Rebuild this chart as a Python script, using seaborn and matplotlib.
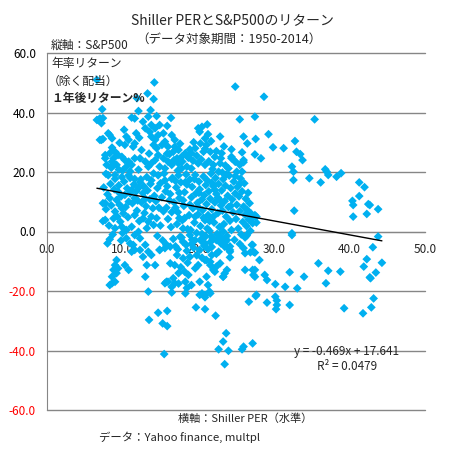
import numpy as np
import pandas as pd
import matplotlib
matplotlib.use('Agg')
import matplotlib.pyplot as plt
import seaborn as sns

# Shiller PER (x) vs 1-year forward S&P500 return % (y)

# upper-left part (PER < 19, return > 20)
pe_upper_left = [6.6, 14.2, 13.3, 14.1, 11.9, 7.3, 12.1, 13.7, 13.4, 11.2, 11.6, 6.8, 7.4, 13.8, 14.3,
                 14.9, 13.0, 12.7, 16.5, 16.9, 8.1, 8.6, 8.3, 7.0, 7.4, 10.5, 10.8, 10.3, 11.6, 11.4,
                 13.6, 13.8, 14.3, 14.1, 14.5, 15.4, 15.6, 15.2, 16.0, 16.9, 17.4, 16.7, 18.3, 17.8, 17.2,
                 7.7, 8.3, 9.0, 9.4, 8.8, 9.9, 7.9, 8.6, 9.2, 10.3, 10.8, 11.2, 11.6, 10.5, 12.5,
                 12.3, 13.0, 13.4, 13.8, 14.3, 14.7, 15.4, 16.0, 16.5, 15.6, 14.9, 17.4, 17.8,
                 6.6, 7.2, 7.0, 7.2, 7.7, 16.2, 16.8, 17.3, 17.9, 18.5, 18.7, 15.9, 13.5, 12.1, 11.0,
                 9.5, 8.6, 9.6, 10.2, 12.2, 11.8, 14.7, 15.9, 16.4, 14.5, 17.6, 8.5]
ret_upper_left = [51.0, 50.1, 46.4, 44.5, 44.8, 41.1, 40.5, 40.8, 38.6, 38.3, 38.0, 37.5, 38.1, 35.8, 34.7,
                  35.8, 34.7, 36.9, 32.4, 30.8, 33.0, 31.3, 32.4, 30.8, 31.1, 31.9, 30.8, 29.1, 29.6, 28.5,
                  33.5, 31.9, 30.8, 29.1, 28.0, 33.0, 30.2, 29.1, 28.5, 28.5, 27.4, 26.8, 26.3, 25.1, 24.6,
                  25.7, 26.3, 26.8, 25.7, 24.6, 25.1, 22.4, 23.5, 22.4, 24.0, 23.5, 22.4, 24.6, 21.8, 27.4,
                  24.6, 23.5, 21.8, 22.9, 24.0, 25.7, 24.6, 23.5, 22.4, 21.2, 21.8, 22.9, 21.2,
                  37.5, 36.4, 38.0, 30.8, 24.6, 26.0, 24.0, 20.5, 23.5, 21.8, 24.8, 26.2, 26.2, 20.8, 20.2,
                  20.8, 28.2, 29.8, 34.2, 31.5, 33.0, 32.4, 35.5, 38.2, 38.8, 29.5, 21.5]

# upper-right part (PER >= 19, return > 5)
pe_upper_right = [24.9, 28.7, 25.5, 27.5, 21.2, 20.0, 20.2, 20.5, 20.9, 21.3, 22.9, 26.0, 26.5, 27.6, 29.3,
                  29.9, 31.3, 25.8, 27.5, 28.3, 19.6, 19.1, 20.7, 21.1, 21.6, 23.1, 22.2, 24.4, 24.9, 26.0,
                  24.0, 22.9, 22.0, 20.9, 20.0, 19.1, 22.7, 25.1, 25.8, 32.4, 32.6, 32.6, 32.8, 33.0, 33.5,
                  33.8, 35.4, 34.7, 36.2, 36.8, 37.0, 37.2, 38.3, 38.9, 41.3, 42.0, 41.3, 40.4, 40.5, 42.5,
                  42.7, 43.8, 40.5, 42.3, 32.7, 19.3, 19.8, 20.4, 20.9, 21.4, 21.9, 22.4, 23.0, 23.6, 19.4,
                  20.3, 21.7, 23.4, 24.4, 18.9, 24.4, 24.9, 25.5, 26.0, 27.5, 27.1, 27.7]
ret_upper_right = [48.7, 45.3, 37.7, 38.6, 36.0, 34.7, 33.5, 35.2, 31.3, 32.7, 31.9, 31.9, 29.6, 31.1, 32.7,
                   28.3, 28.0, 26.6, 25.9, 24.6, 28.0, 26.3, 26.8, 29.1, 26.8, 26.3, 25.1, 25.1, 23.5, 23.3,
                   21.2, 22.9, 22.4, 22.4, 22.9, 21.2, 20.1, 20.1, 20.1, 21.8, 20.1, 17.3, 30.4, 26.8, 26.0,
                   24.0, 37.7, 17.9, 16.5, 20.9, 20.1, 19.0, 18.4, 19.6, 16.5, 14.9, 11.9, 10.3, 8.9, 9.2,
                   8.9, 7.5, 5.0, 5.9, 7.0, 23.8, 25.5, 24.2, 27.8, 23.6, 21.0, 27.0, 24.6, 22.2, 30.0,
                   29.6, 30.4, 28.6, 27.6, 27.6, 24.6, 23.5, 22.4, 24.0, 5.5, 4.4, 5.0]

# dense left core (PER 7-15, return around 0-20)
pe_core_left = [8.1, 9.0, 9.9, 10.8, 11.6, 12.3, 13.2, 13.8, 14.7, 15.6, 16.5, 17.4, 18.3,
                7.7, 8.3, 9.2, 9.4, 10.3, 11.2, 12.1, 12.7, 11.6, 10.8, 9.9, 9.0, 10.1,
                7.4, 8.8, 9.7, 9.0, 9.9, 10.5, 11.2, 12.1, 12.7, 13.4, 13.8, 14.1, 13.2, 12.3, 11.6,
                7.5, 8.0, 8.4, 8.9, 9.5, 9.8, 10.2, 10.6, 11.0, 11.5, 11.8, 12.4, 12.8, 13.3, 13.7,
                14.2, 14.6, 15.0, 7.8, 8.5, 9.6, 10.4, 11.3, 11.9, 12.5, 13.1, 13.6, 14.0, 14.4, 14.8,
                15.2, 8.2, 8.7, 9.3, 10.7, 11.6, 12.2, 12.9, 14.5, 15.0, 15.4, 10.0, 8.0, 9.8, 14.6, 15.3,
                15.7, 14.1, 13.0, 12.0, 11.0, 10.0, 9.0, 8.5, 7.8, 7.4, 7.7]
ret_core_left = [18.9, 17.7, 18.3, 18.9, 17.7, 16.6, 18.3, 17.2, 18.9, 17.2, 17.7, 18.9, 16.6,
                 9.5, 11.2, 10.6, 13.4, 12.3, 14.0, 14.6, 12.9, 11.2, 10.0, 7.8, 6.7, 6.1,
                 3.5, 4.4, 3.3, 1.1, 1.6, 0.5, 1.6, -0.1, 4.4, 3.3, 5.0, 2.2, 1.1, -2.3, -1.2,
                 14.8, 12.5, 16.0, 14.2, 15.5, 11.8, 16.8, 14.5, 12.8, 15.8, 13.5, 17.5, 15.2, 13.8, 16.0,
                 12.0, 14.6, 16.2, 7.5, 8.8, 9.0, 8.2, 9.5, 7.0, 9.8, 8.5, 10.8, 7.8, 10.2, 8.0,
                 11.5, 2.0, -1.0, 5.0, 4.8, 5.5, 3.5, 6.2, 4.5, 2.0, 6.8, -0.5, -4.0, -3.0, -1.5, -3.0,
                 13.5, 19.5, 11.0, 10.4, 18.0, 20.5, 19.0, 21.5, 19.4, 9.5, 3.9]

# dense middle core (PER 15-28, return around -10 to 20)
pe_core_mid = [15.5, 15.9, 16.3, 16.6, 16.8, 17.1, 17.3, 17.5, 17.7, 17.9, 18.1, 18.2, 18.4, 18.6, 18.8,
               16.0, 16.4, 16.7, 17.0, 17.6, 18.0, 18.5, 15.8, 16.2, 17.2,
               18.9, 19.1, 19.2, 19.3, 19.5, 19.6, 19.7, 19.8, 19.9, 20.0, 20.1, 20.2, 20.3, 20.4, 20.5,
               20.6, 20.7, 20.8, 20.9, 21.0, 19.2, 19.4, 19.8, 20.2, 20.8, 21.0, 19.0, 19.6, 20.1, 20.5,
               21.1, 21.2, 21.3, 21.4, 21.5, 21.6, 21.7, 21.8, 21.9, 22.0, 22.1, 22.2, 22.3, 22.4, 22.5,
               22.6, 22.7, 22.8, 22.9, 23.0, 21.3, 21.8, 22.4, 22.8, 21.5, 22.2,
               23.1, 23.2, 23.3, 23.4, 23.5, 23.6, 23.7, 23.8, 23.9, 24.0, 24.1, 24.2, 24.3, 24.4, 24.5,
               24.6, 24.7, 24.8, 24.9, 25.0, 23.5, 24.2, 23.2,
               25.1, 25.2, 25.3, 25.4, 25.5, 25.6, 25.7, 25.8, 25.9, 26.0, 26.1, 26.2, 26.3, 26.4, 26.5,
               26.6, 26.7, 26.8, 27.0, 27.2, 27.4, 26.9, 25.5, 26.2, 27.7,
               17.0, 17.5, 18.0, 18.5, 18.9, 19.5, 20.0, 20.7, 21.2, 21.8, 22.0, 22.6, 23.0, 23.7, 24.3,
               24.9, 25.5, 23.3, 22.9, 21.6, 20.5, 19.1, 18.2, 16.5,
               17.0, 17.5, 18.0, 17.8, 18.4, 17.3, 18.0, 18.6, 17.7, 18.2, 18.9]
ret_core_mid = [19.5, 15.2, 12.6, 18.0, 9.8, 14.8, 6.5, 11.2, 16.5, 3.8, 8.6, 13.2, 19.2, 0.8, 5.5,
                4.2, 1.5, -2.5, -5.0, -1.8, -3.5, -6.5, 8.0, 10.5, 2.5,
                17.5, 11.5, 15.0, 7.8, 3.0, 19.0, 12.8, -0.5, 9.6, 5.8, 16.8, 14.2, 1.8, -3.2, 10.8,
                7.2, 18.5, 12.2, 3.8, -1.6, -2.8, -5.5, -8.0, -6.2, -4.8, 15.6, 0.5, 5.0, 13.0, -8.8,
                9.2, 17.2, 5.5, 13.5, 0.2, 11.0, 19.5, 7.5, -2.5, 15.2, 3.0, 9.8, 18.0, 12.6, -0.8,
                6.2, 16.0, 1.5, 10.5, -4.0, -6.0, -5.2, -7.5, -3.0, 3.5, 14.0,
                13.8, 7.0, 17.6, 2.5, 10.2, 15.4, 5.0, -1.5, 12.0, 8.2, 18.8, 3.6, 14.6, 0.5, 10.8,
                6.5, 16.8, -2.8, 12.8, 4.2, -3.6, -5.0, 19.8,
                9.0, 15.0, 1.0, 11.8, 6.8, 17.8, -1.0, 13.5, 3.2, 8.4, 16.2, 5.6, 11.0, 1.8, 7.2,
                13.0, 4.0, 9.5, 6.0, 2.8, 5.2, 0.2, -4.2, -2.0, 3.0,
                17.0, 13.0, 10.5, 15.8, 9.0, 17.6, 8.2, 4.6, 1.0, 16.4, 5.0, 11.4, 8.8, 19.2, 8.6,
                18.6, 16.0, 0.0, -1.8, -3.6, -0.8, -4.2, 4.5, 6.5,
                8.0, 4.5, 1.0, -2.0, -4.5, -6.0, -9.0, -10.5, -12.0, -13.5, -8.5]

# lower part (return below 0)
pe_lower = [10.5, 11.0, 11.4, 11.2, 11.6, 12.3, 13.0, 13.4, 12.7, 13.8, 14.9, 15.6, 15.8, 14.3, 13.2, 13.0,
            9.2, 9.0, 8.8, 8.6, 8.6, 9.0, 8.3, 9.4, 9.2, 10.3, 10.8, 8.3,
            13.4, 18.3, 18.3, 16.0, 16.7, 15.6, 17.4, 16.9, 17.2, 14.9, 15.8, 16.3, 16.3, 15.8, 16.9, 16.5,
            18.9, 19.6, 20.5, 20.9, 21.8, 22.4, 23.1, 23.8, 23.5, 24.2, 22.7, 21.8, 20.9, 20.0, 19.6,
            18.7, 21.6, 22.4, 22.2, 23.3, 23.5, 21.1, 20.2, 19.1, 21.3, 20.5, 20.9, 21.6, 26.2, 27.5,
            27.3, 28.8, 29.1, 30.2, 31.5, 26.4, 27.1, 27.3, 26.2, 26.0, 27.7, 30.2, 32.4,
            23.3, 23.8, 24.2, 22.0, 21.1, 22.9, 27.2, 27.5, 17.4, 18.5, 16.5,
            43.8, 43.1, 32.4, 26.4, 27.2, 26.9, 27.5, 28.1, 24.2, 23.7, 21.6,
            32.1, 33.1, 34.0, 35.9, 37.2, 36.9, 38.8, 41.9, 42.3, 44.3, 43.5, 42.8, 42.7]
ret_lower = [-2.3, -4.0, -4.5, -6.8, -6.2, -6.2, -4.5, -6.8, -8.5, -7.9, -6.2, -5.6, -4.5, -11.3, -11.3, -15.2,
             -9.6, -11.3, -12.9, -15.2, -17.4, -16.9, -18.0, -12.4, -14.0, -11.3, -12.9, -2.6,
             -20.2, -20.8, -16.9, -16.9, -15.7, -17.4, -14.0, -11.3, -7.9, -6.2, -4.5, -5.1, -10.7, -16.9, -17.4, -18.6,
             -1.2, -2.9, -2.3, -4.0, -1.7, -2.9, -2.3, -2.9, -5.1, -6.2, -6.8, -7.9, -9.6, -11.3, -12.4,
             -14.6, -11.3, -11.8, -13.5, -15.2, -14.1, -15.2, -16.9, -18.0, -18.0, -20.8, -21.3, -20.8, -12.9, -12.9,
             -14.6, -14.6, -16.3, -17.7, -18.6, -1.2, -4.5, -6.8, -7.3, -5.6, -21.3, -21.9, -0.6,
             -15.2, -12.9, -6.8, -12.9, -9.6, -10.7, -12.9, -15.2, -17.5, -19.0, -20.5,
             -1.7, -5.3, -1.2, -1.4, -4.5, -7.0, -7.1, -9.6, -8.7, -5.1, -10.2,
             -13.7, -19.1, -15.2, -10.7, -13.2, -17.4, -13.5, -11.8, -9.3, -10.5, -13.8, -15.7, -15.4]

# bottom tail (return below -20)
pe_tail = [26.7, 27.6, 29.1, 30.4, 30.4, 30.3, 32.1, 39.3, 41.8, 43.2, 42.9, 20.9, 22.3,
           23.7, 23.3, 22.7, 24.0, 23.5, 25.8, 26.0, 27.2, 20.2, 20.9, 21.5, 14.7, 15.9, 13.5,
           15.3, 15.9, 19.7, 15.5]
ret_tail = [-23.6, -21.7, -23.9, -23.2, -24.7, -26.1, -24.7, -25.8, -27.5, -22.5, -25.5, -26.1, -28.3,
            -34.2, -37.0, -39.6, -40.1, -44.6, -39.6, -38.7, -37.6, -21.3, -22.1, -20.2, -27.3, -26.7, -29.7,
            -30.9, -31.8, -25.5, -41.2]

# trend line shown on the chart
slope = -0.469
intercept = 17.641

y_ticks = [60, 40, 20, 0, -20, -40, -60]
x_ticks = [0, 10, 20, 30, 40, 50]

df = pd.DataFrame({
    'per': pe_upper_left + pe_upper_right + pe_core_left + pe_core_mid + pe_lower + pe_tail,
    'ret': ret_upper_left + ret_upper_right + ret_core_left + ret_core_mid + ret_lower + ret_tail,
})

sns.set_style('white')
plt.rcParams['font.family'] = ['Noto Sans CJK JP', 'DejaVu Sans']

fig = plt.figure(figsize=(4.74, 4.49), dpi=100)
ax = fig.add_axes([47 / 474, 1 - 410 / 449, 378 / 474, 357 / 449])

grid_col = '#868686'
for yv in y_ticks:
    ax.axhline(yv, color=grid_col, lw=1.0, zorder=0, clip_on=False)

sns.scatterplot(data=df, x='per', y='ret', marker='D', color='#00B0F0', s=20,
                edgecolor='none', linewidth=0, ax=ax, zorder=3)

xs = np.array([df['per'].min(), df['per'].max()])
ax.plot(xs, slope * xs + intercept, color='black', lw=1.0, zorder=4)

ax.set_xlim(0, 50)
ax.set_ylim(-60, 60)
ax.set_xticks(x_ticks)
ax.set_xticklabels([f'{v:.1f}' for v in x_ticks])
ax.set_yticks(y_ticks)
ax.set_yticklabels([f'{v:.1f}' for v in y_ticks])
for lab, v in zip(ax.get_yticklabels(), y_ticks):
    lab.set_color('red' if v < 0 else 'black')

for s in ['top', 'right']:
    ax.spines[s].set_visible(False)
ax.spines['bottom'].set_position(('data', 0))
ax.spines['bottom'].set_color(grid_col)
ax.spines['left'].set_color(grid_col)
ax.tick_params(axis='both', length=3, width=1, color=grid_col, labelsize=8.5)
ax.tick_params(axis='x', direction='out', pad=5)
ax.tick_params(axis='y', direction='out', pad=5)
ax.set_xlabel('')
ax.set_ylabel('')

fig.text(232 / 474, 1 - 21 / 449, 'Shiller PERとS&P500のリターン', ha='center', va='center', fontsize=10)
fig.text(229 / 474, 1 - 39 / 449, '（データ対象期間：1950-2014）', ha='center', va='center', fontsize=9)
fig.text(51 / 474, 1 - 45 / 449, '縦軸：S&P500', ha='left', va='center', fontsize=8.5)
fig.text(51 / 474, 1 - 63 / 449, '年率リターン', ha='left', va='center', fontsize=8.5)
fig.text(48 / 474, 1 - 81 / 449, '（除く配当）', ha='left', va='center', fontsize=8.5)
fig.text(51 / 474, 1 - 98 / 449, '１年後リターン%', ha='left', va='center', fontsize=8.5, fontweight='bold')
fig.text(347 / 474, 1 - 351 / 449, 'y = -0.469x + 17.641', ha='center', va='center', fontsize=8.5)
fig.text(347 / 474, 1 - 367 / 449, 'R² = 0.0479', ha='center', va='center', fontsize=8.5)
fig.text(245 / 474, 1 - 419 / 449, '横軸：Shiller PER（水準）', ha='center', va='center', fontsize=8)
fig.text(99 / 474, 1 - 437 / 449, 'データ：Yahoo finance, multpl', ha='left', va='center', fontsize=8.2)

fig.savefig('out.png', dpi=100)
